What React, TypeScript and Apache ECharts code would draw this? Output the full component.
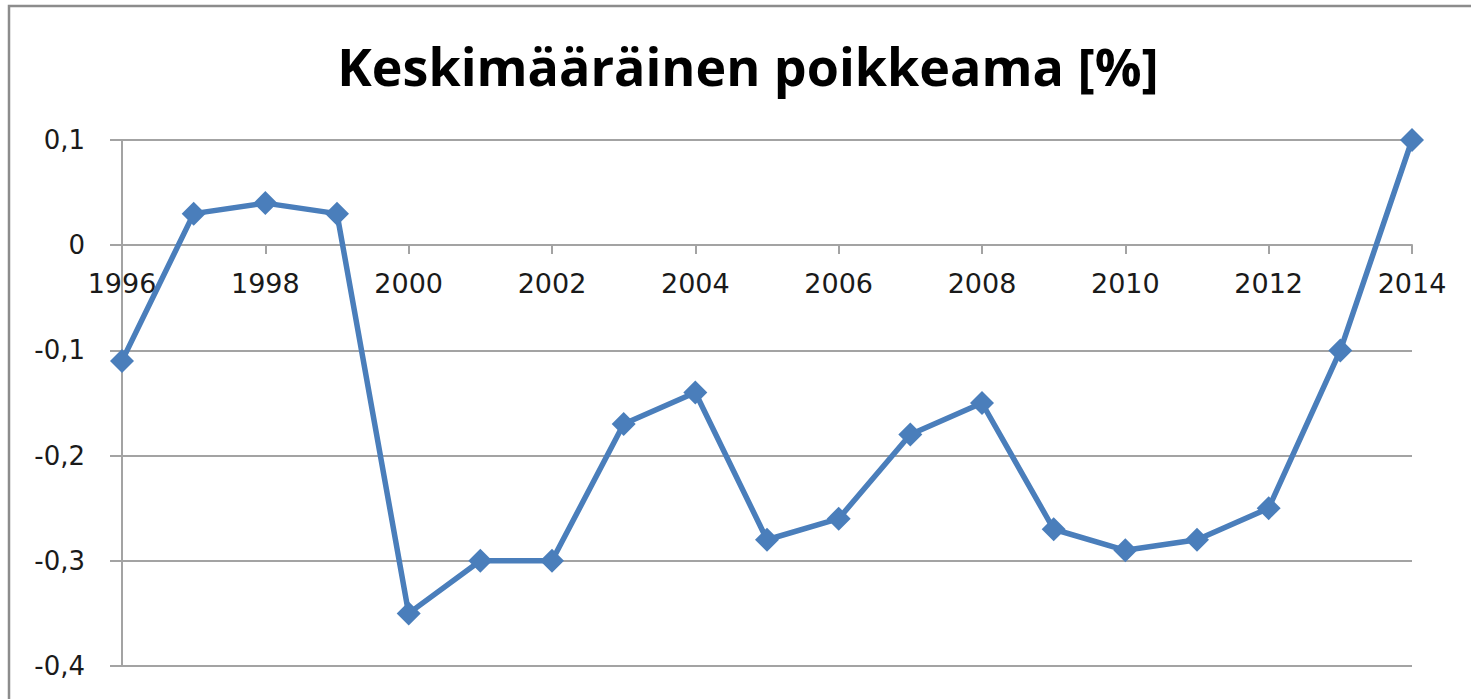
import React, { useEffect, useRef } from "react";
import * as echarts from "echarts";

const years = [1996, 1997, 1998, 1999, 2000, 2001, 2002, 2003, 2004, 2005, 2006, 2007, 2008, 2009, 2010, 2011, 2012, 2013, 2014];
const values = [-0.11, 0.03, 0.04, 0.03, -0.35, -0.3, -0.3, -0.17, -0.14, -0.28, -0.26, -0.18, -0.15, -0.27, -0.29, -0.28, -0.25, -0.1, 0.1];
const titleText = "Keskimääräinen poikkeama [%]";

export default function App() {
  const ref = useRef<HTMLDivElement>(null);
  useEffect(() => {
    if (!ref.current) return;
    const chart = echarts.init(ref.current, undefined, { renderer: "svg" });
    const gray = "#a3a3a3";
    const gridTop = 140;
    const gridBottom = 33;
    const gridH = 699 - gridTop - gridBottom;
    const yMin = -0.4;
    const yMax = 0.1;
    const zeroOffset = -Math.round((gridH * (0 - yMin)) / (yMax - yMin));
    chart.setOption({
      animation: false,
      backgroundColor: "#ffffff",
      graphic: [
        {
          type: "rect",
          shape: { x: 9, y: 6, width: 1520, height: 800 },
          style: { fill: "none", stroke: "#8c8c8c", lineWidth: 2.5 },
          silent: true,
        },
      ],
      title: {
        text: titleText,
        left: 743,
        top: 34,
        textAlign: "center",
        textStyle: {
          fontFamily: "Open Sans",
          fontWeight: "bold",
          fontSize: 52,
          color: "#000000",
        },
      },
      grid: { left: 122, right: 59, top: gridTop, bottom: gridBottom, containLabel: false },
      xAxis: {
        type: "value",
        min: 1996,
        max: 2014,
        interval: 2,
        position: "bottom",
        offset: zeroOffset,
        axisLine: { onZero: false, lineStyle: { color: gray, width: 2 } },
        axisTick: { show: true, length: 9, lineStyle: { color: gray, width: 2 } },
        axisLabel: {
          margin: 25,
          fontFamily: "DejaVu Sans",
          fontSize: 27,
          color: "#1a1a1a",
          formatter: (v: number) => String(v),
        },
        splitLine: { show: false },
      },
      yAxis: {
        type: "value",
        min: yMin,
        max: yMax,
        interval: 0.1,
        axisLine: { show: true, lineStyle: { color: gray, width: 2 } },
        axisTick: { show: true, length: 12, lineStyle: { color: gray, width: 2 } },
        axisLabel: {
          margin: 37,
          fontFamily: "DejaVu Sans",
          fontSize: 26,
          color: "#1a1a1a",
          formatter: (v: number) => {
            const r = Math.round(v * 10) / 10;
            if (r === 0) return "0";
            return r.toFixed(1).replace(".", ",");
          },
        },
        splitLine: { show: true, lineStyle: { color: gray, width: 2 } },
      },
      series: [
        {
          type: "line",
          data: years.map((y, i) => [y, values[i]]),
          symbol: "diamond",
          symbolSize: 24,
          showAllSymbol: true,
          lineStyle: { color: "#4a7ebb", width: 5.5 },
          itemStyle: { color: "#4a7ebb" },
        },
      ],
    });
    return () => chart.dispose();
  }, []);
  return (
    <div
      ref={ref}
      style={{ position: "fixed", left: 0, top: 0, width: 1471, height: 699, background: "#fff" }}
    />
  );
}
